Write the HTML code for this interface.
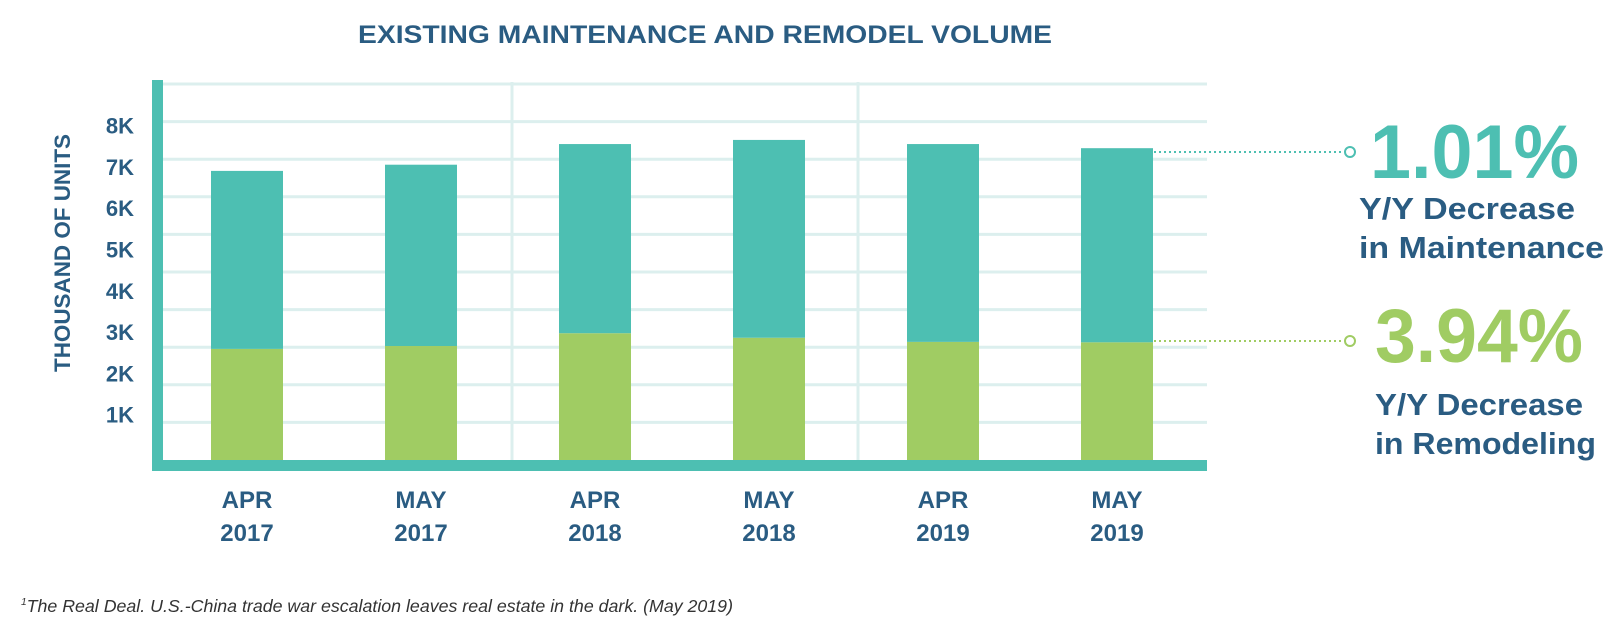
<!DOCTYPE html>
<html><head><meta charset="utf-8"><style>
body{margin:0;background:#fff;width:1614px;height:625px;overflow:hidden;font-family:"Liberation Sans",sans-serif}
</style></head><body>
<svg width="1614" height="625">
<text x="705" y="43" text-anchor="middle" font-size="25" font-weight="bold" fill="#2a5c82" textLength="694" lengthAdjust="spacingAndGlyphs">EXISTING MAINTENANCE AND REMODEL VOLUME</text>
<g id="grid"></g>
<g id="bars"></g>
<g id="yticks"></g>
<g id="xticks"></g>
<rect x="152" y="80" width="11" height="391" fill="#4dbfb2"/>
<rect x="152" y="460" width="1055" height="11" fill="#4dbfb2"/>
<text transform="translate(70,253) rotate(-90)" text-anchor="middle" font-size="22" font-weight="bold" fill="#2a5c82" textLength="238" lengthAdjust="spacingAndGlyphs">THOUSAND OF UNITS</text>
<line x1="1154" y1="152" x2="1344" y2="152" stroke="#4dbfb2" stroke-width="2" stroke-dasharray="2,3"/>
<circle cx="1350" cy="152" r="5" fill="#fff" stroke="#4dbfb2" stroke-width="2"/>
<line x1="1154" y1="341" x2="1344" y2="341" stroke="#a0cc63" stroke-width="2" stroke-dasharray="2,3"/>
<circle cx="1350" cy="341" r="5" fill="#fff" stroke="#a0cc63" stroke-width="2"/>
<text x="1370" y="178" font-size="76" font-weight="bold" fill="#4dbfb2" textLength="209" lengthAdjust="spacingAndGlyphs">1.01%</text>
<text x="1359" y="219" font-size="31" font-weight="bold" fill="#2a5c82" textLength="216" lengthAdjust="spacingAndGlyphs">Y/Y Decrease</text>
<text x="1359" y="258" font-size="31" font-weight="bold" fill="#2a5c82" textLength="245" lengthAdjust="spacingAndGlyphs">in Maintenance</text>
<text x="1375" y="362" font-size="76" font-weight="bold" fill="#a0cc63" textLength="208" lengthAdjust="spacingAndGlyphs">3.94%</text>
<text x="1375" y="415" font-size="31" font-weight="bold" fill="#2a5c82" textLength="208" lengthAdjust="spacingAndGlyphs">Y/Y Decrease</text>
<text x="1375" y="454" font-size="31" font-weight="bold" fill="#2a5c82" textLength="221" lengthAdjust="spacingAndGlyphs">in Remodeling</text>
<text x="21" y="612" font-size="17.5" font-style="italic" fill="#333" textLength="712" lengthAdjust="spacingAndGlyphs"><tspan font-size="10" dy="-7">1</tspan><tspan dy="7">The Real Deal. U.S.-China trade war escalation leaves real estate in the dark. (May 2019)</tspan></text>
</svg>
<script>
const categories=[["APR","2017"],["MAY","2017"],["APR","2018"],["MAY","2018"],["APR","2019"],["MAY","2019"]];
const remodeling=[2.69,2.76,3.07,2.96,2.86,2.85];
const maintenance=[4.31,4.39,4.58,4.79,4.79,4.70];
const yTickLabels=["1K","2K","3K","4K","5K","6K","7K","8K"];
const NS="http://www.w3.org/2000/svg";
const y0=460,pxPerK=41.3;
function y(v){return y0-v*pxPerK;}
function x(i){return 211+i*174;}
const bw=72;
function mk(tag,attrs,parent){const e=document.createElementNS(NS,tag);for(const k in attrs)e.setAttribute(k,attrs[k]);parent.appendChild(e);return e;}
const grid=document.getElementById('grid');
for(let i=0;i<10;i++){const gy=84+i*37.6;const l=mk('line',{x1:163,x2:1207,y1:gy,y2:gy,stroke:'#dcefee','stroke-width':3},grid);

}
[512,858].forEach(vx=>{const l=mk('line',{x1:vx,x2:vx,y1:82,y2:460,stroke:'#dcefee','stroke-width':3},grid);

});
const bars=document.getElementById('bars');
const xt=document.getElementById('xticks');
categories.forEach((c,i)=>{
const g=mk('rect',{x:x(i),y:y(remodeling[i]),width:bw,height:y0-y(remodeling[i]),fill:'#a0cc63'},bars);


const tot=remodeling[i]+maintenance[i];
const t=mk('rect',{x:x(i),y:y(tot),width:bw,height:y(remodeling[i])-y(tot),fill:'#4dbfb2'},bars);


c.forEach((s,j)=>{const tx=mk('text',{x:x(i)+bw/2,y:508+j*33,'text-anchor':'middle','font-size':24,'font-weight':'bold',fill:'#2a5c82'},xt);tx.textContent=s;

});
});
const yt=document.getElementById('yticks');
yTickLabels.forEach((s,i)=>{const t=mk('text',{x:134,y:y(i+1)+4,'text-anchor':'end','font-size':22,'font-weight':'bold',fill:'#2a5c82'},yt);t.textContent=s;

});
</script>
</body></html>
